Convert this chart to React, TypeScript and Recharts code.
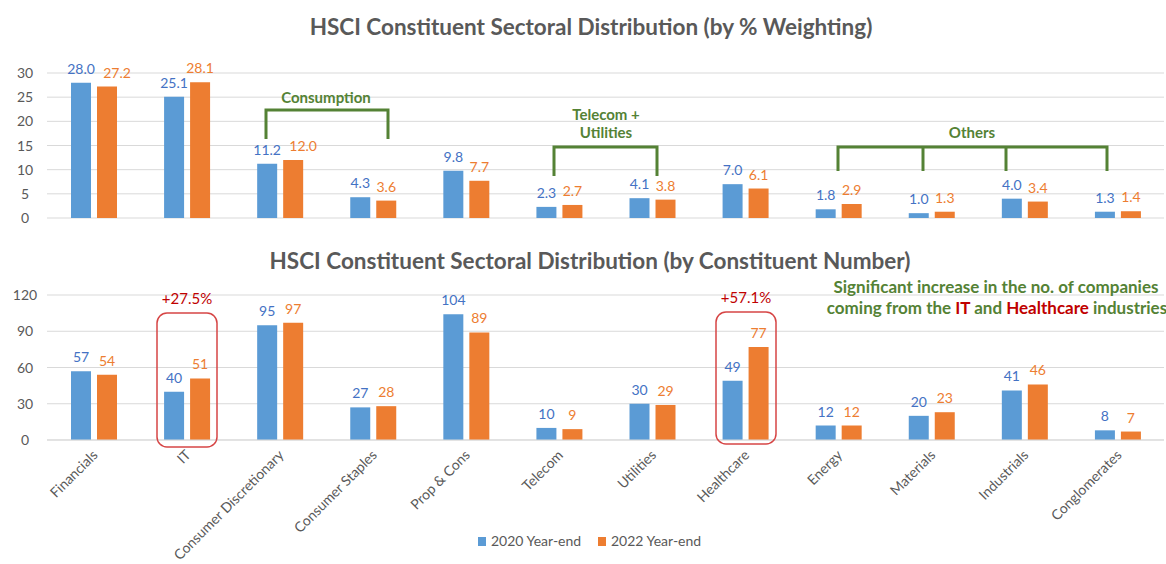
import React from "react";
import { BarChart, Bar, XAxis, YAxis, CartesianGrid, LabelList } from "recharts";

const categories = [
  "Financials",
  "IT",
  "Consumer Discretionary",
  "Consumer Staples",
  "Prop & Cons",
  "Telecom",
  "Utilities",
  "Healthcare",
  "Energy",
  "Materials",
  "Industrials",
  "Conglomerates",
];
const weight2020 = [28.0, 25.1, 11.2, 4.3, 9.8, 2.3, 4.1, 7.0, 1.8, 1.0, 4.0, 1.3];
const weight2022 = [27.2, 28.1, 12.0, 3.6, 7.7, 2.7, 3.8, 6.1, 2.9, 1.3, 3.4, 1.4];
const count2020 = [57, 40, 95, 27, 104, 10, 30, 49, 12, 20, 41, 8];
const count2022 = [54, 51, 97, 28, 89, 9, 29, 77, 12, 23, 46, 7];
const weightTicks = [0, 5, 10, 15, 20, 25, 30];
const countTicks = [0, 30, 60, 90, 120];
const seriesNames = ["2020 Year-end", "2022 Year-end"];

const FONT = "Lato, 'Open Sans', sans-serif";
const BLUE = "#5B9BD5";
const ORANGE = "#ED7D31";
const BLUE_TXT = "#4472C4";
const GREY = "#595959";
const GREEN = "#548235";
const RED = "#C00000";
const GRID = "#D9D9D9";

const weightData = categories.map((name, i) => ({ name, a: weight2020[i], b: weight2022[i] }));
const countData = categories.map((name, i) => ({ name, a: count2020[i], b: count2022[i] }));

const fmt1 = (v: any) => Number(v).toFixed(1);

const YTick = (props: any) => {
  const { y, payload } = props;
  return (
    <text x={25} y={y} dy={5} textAnchor="middle" fill={GREY} fontSize={14} fontFamily={FONT}>
      {payload.value}
    </text>
  );
};

const XTick = (props: any) => {
  const { x, y, payload } = props;
  const px = x + 5;
  const py = y + 8;
  return (
    <text
      x={px}
      y={py}
      textAnchor="end"
      transform={`rotate(-45, ${px}, ${py})`}
      fill={GREY}
      fontSize={14}
      fontFamily={FONT}
    >
      {payload.value}
    </text>
  );
};

// Orange % labels step aside (as Excel does) when they would collide with the blue label.
const OrangeWeightLabel = (props: any) => {
  const { x, y, width, value, index } = props;
  const other = weight2020[index];
  const txt = fmt1(value);
  const pxPerUnit = 145 / 30;
  const collide = Math.abs(value - other) * pxPerUnit < 14 && txt.length >= 4 && fmt1(other).length >= 4;
  return (
    <text
      x={x + width / 2 + (collide ? 10 : 0)}
      y={y - 9}
      textAnchor="middle"
      fill={ORANGE}
      fontSize={14}
      fontFamily={FONT}
    >
      {txt}
    </text>
  );
};

export default function App() {
  return (
    <div style={{ position: "absolute", left: 0, top: 0, width: 1166, height: 564, background: "#fff", fontFamily: FONT }}>
      <div style={{ position: "absolute", left: 0, top: 0 }}>
        <BarChart
          width={1166}
          height={240}
          data={weightData}
          margin={{ top: 73, right: 2, bottom: 22, left: 0 }}
          barSize={20}
          barGap={6}
        >
          <CartesianGrid vertical={false} stroke={GRID} />
          <XAxis dataKey="name" hide />
          <YAxis
            domain={[0, 30]}
            ticks={weightTicks}
            width={47}
            axisLine={false}
            tickLine={false}
            tick={<YTick />}
          />
          <Bar dataKey="a" name={seriesNames[0]} fill={BLUE} isAnimationActive={false}>
            <LabelList dataKey="a" position="top" offset={9} fill={BLUE_TXT} fontSize={14} fontFamily={FONT} formatter={fmt1} />
          </Bar>
          <Bar dataKey="b" name={seriesNames[1]} fill={ORANGE} isAnimationActive={false}>
            <LabelList dataKey="b" content={<OrangeWeightLabel />} />
          </Bar>
        </BarChart>
      </div>
      <div style={{ position: "absolute", left: 0, top: 240 }}>
        <BarChart
          width={1166}
          height={324}
          data={countData}
          margin={{ top: 55, right: 2, bottom: 0, left: 0 }}
          barSize={20}
          barGap={6}
        >
          <CartesianGrid vertical={false} stroke={GRID} />
          <XAxis
            dataKey="name"
            interval={0}
            height={124}
            axisLine={{ stroke: GRID }}
            tickLine={false}
            tick={<XTick />}
          />
          <YAxis
            domain={[0, 120]}
            ticks={countTicks}
            width={47}
            axisLine={false}
            tickLine={false}
            tick={<YTick />}
          />
          <Bar dataKey="a" name={seriesNames[0]} fill={BLUE} isAnimationActive={false}>
            <LabelList dataKey="a" position="top" offset={9} fill={BLUE_TXT} fontSize={14} fontFamily={FONT} />
          </Bar>
          <Bar dataKey="b" name={seriesNames[1]} fill={ORANGE} isAnimationActive={false}>
            <LabelList dataKey="b" position="top" offset={9} fill={ORANGE} fontSize={14} fontFamily={FONT} />
          </Bar>
        </BarChart>
      </div>
      <svg
        width={1166}
        height={564}
        style={{ position: "absolute", left: 0, top: 0, pointerEvents: "none" }}
        fontFamily={FONT}
      >
        <text x={591} y={35} textAnchor="middle" fontSize={22.5} fontWeight="bold" fill={GREY}>
          HSCI Constituent Sectoral Distribution (by % Weighting)
        </text>
        <text x={590} y={269} textAnchor="middle" fontSize={22.5} fontWeight="bold" fill={GREY}>
          HSCI Constituent Sectoral Distribution (by Constituent Number)
        </text>

        <g fill="none" stroke={GREEN} strokeWidth={3}>
          <path d="M266,139 V110 H388 V139" />
          <path d="M554,176 V147 H657 V176" />
          <path d="M838,171 V147 H1107 V171" />
          <path d="M923,147 V171" />
          <path d="M1006,147 V171" />
        </g>
        <g fill={GREEN} fontSize={15} fontWeight="bold" textAnchor="middle">
          <text x={326} y={103}>Consumption</text>
          <text x={606} y={120}>Telecom +</text>
          <text x={606} y={138}>Utilities</text>
          <text x={972} y={138}>Others</text>
        </g>

        <g fill="none" stroke="#D64545" strokeWidth={1.5}>
          <rect x={157} y={313} width={60} height={134} rx={10} />
          <rect x={716} y={312} width={60} height={132} rx={10} />
        </g>
        <g fill={RED} fontSize={15} textAnchor="middle">
          <text x={187} y={304}>+27.5%</text>
          <text x={746} y={303}>+57.1%</text>
        </g>

        <g fontSize={17} fontWeight="bold" textAnchor="middle" fill={GREEN}>
          <text x={996} y={293}>Significant increase in the no. of companies</text>
          <text x={997} y={314}>
            coming from the <tspan fill={RED}>IT</tspan> and <tspan fill={RED}>Healthcare</tspan> industries
          </text>
        </g>

        <rect x={478} y={537} width={8} height={9} fill={BLUE} />
        <text x={491} y={546} fontSize={14} fill={GREY}>{seriesNames[0]}</text>
        <rect x={598} y={537} width={8} height={9} fill={ORANGE} />
        <text x={611} y={546} fontSize={14} fill={GREY}>{seriesNames[1]}</text>
      </svg>
    </div>
  );
}
